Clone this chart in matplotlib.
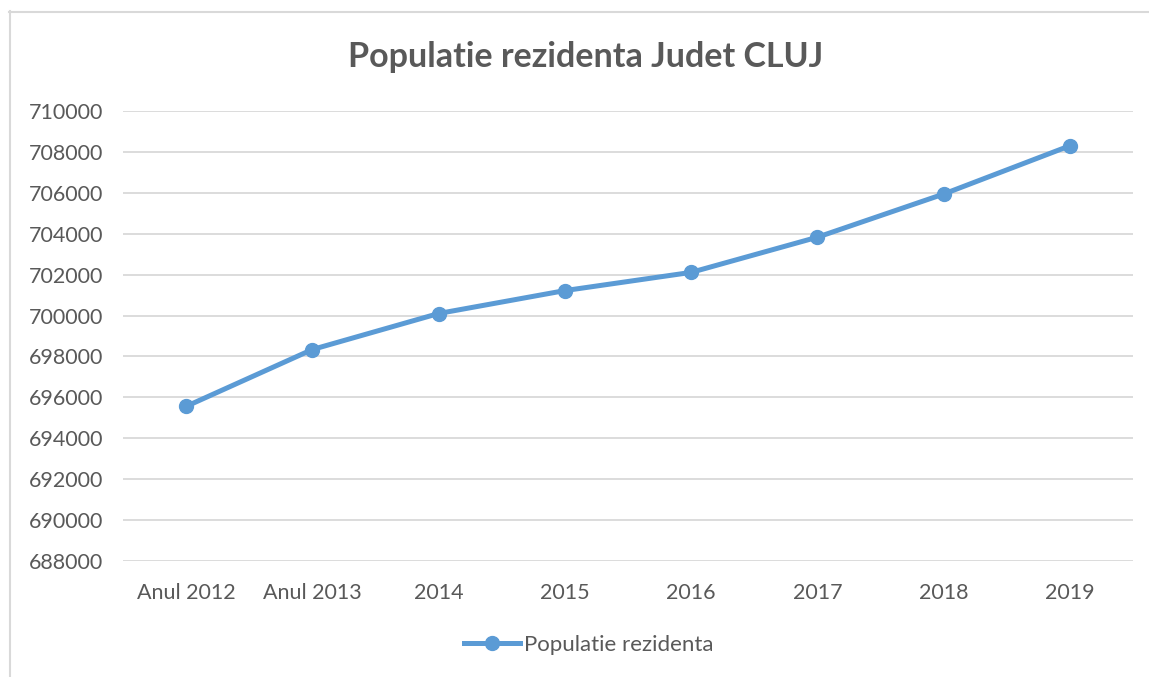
import matplotlib.pyplot as plt
from matplotlib.lines import Line2D

# Date

categories = ["Anul 2012", "Anul 2013", "2014", "2015", "2016", "2017", "2018", "2019"]
populatie = [695560, 698340, 700100, 701220, 702110, 703830, 705940, 708300]
y_ticks = list(range(688000, 712000, 2000))

LINE_COLOR = "#5B9BD5"
TEXT_COLOR = "#595959"
GRID_COLOR = "#D9D9D9"

W, H = 1149, 677

plt.rcParams["font.family"] = ["Lato", "DejaVu Sans"]

fig = plt.figure(figsize=(W / 100, H / 100), dpi=100)
ax = fig.add_axes([123 / W, 1 - 561 / H, (1133 - 123) / W, (561 - 111) / H])

x = list(range(len(categories)))
ax.plot(x, populatie, color=LINE_COLOR, linewidth=3.6, marker="o",
        markersize=10, solid_capstyle="round", label="Populatie rezidenta")

ax.set_xlim(-0.5, len(categories) - 0.5)
ax.set_ylim(688000, 710000)
ax.set_yticks(y_ticks)
ax.set_yticklabels([str(v) for v in y_ticks])
ax.set_xticks(x)
ax.set_xticklabels(categories)

ax.grid(axis="y", color=GRID_COLOR, linewidth=1.3)
ax.set_axisbelow(True)
for side in ["top", "right", "left", "bottom"]:
    ax.spines[side].set_visible(False)
ax.tick_params(axis="both", length=0, labelsize=15.5, colors=TEXT_COLOR)
ax.tick_params(axis="y", pad=14)
ax.tick_params(axis="x", pad=16)

fig.text(586 / W, 1 - 57 / H, "Populatie rezidenta Judet CLUJ", ha="center",
         va="center", fontsize=24.5, fontweight="bold", color=TEXT_COLOR)

# Legenda
handle = Line2D([], [], color=LINE_COLOR, linewidth=3.6, marker="o", markersize=10)
fig.legend([handle], ["Populatie rezidenta"], loc="center",
           bbox_to_anchor=(589 / W, 1 - 645 / H), frameon=False,
           fontsize=16, labelcolor=TEXT_COLOR, handlelength=2.5,
           handletextpad=0.2)

# Okvir
fig.add_artist(Line2D([9.5 / W, 9.5 / W], [0, 1 - 11 / H], color="#D9D9D9",
                      linewidth=1.5, transform=fig.transFigure))
fig.add_artist(Line2D([9 / W, 1], [1 - 11.5 / H, 1 - 11.5 / H], color="#D9D9D9",
                      linewidth=1.5, transform=fig.transFigure))

fig.savefig("out.png", dpi=100)
